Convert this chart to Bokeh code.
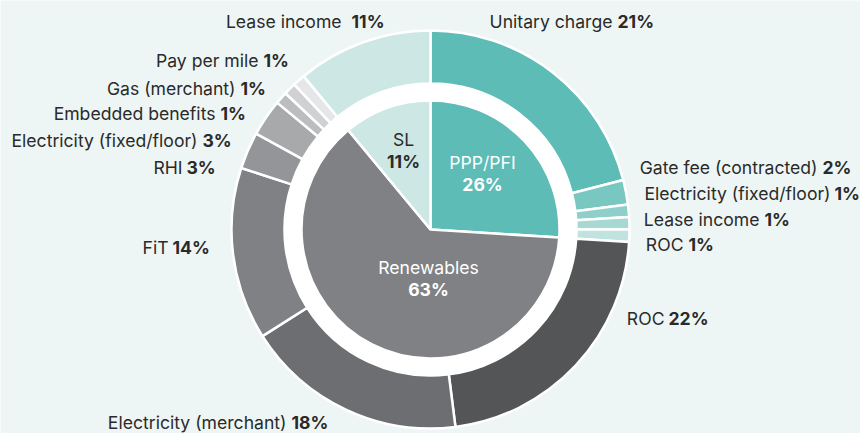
import numpy as np
from bokeh.plotting import figure
from bokeh.models import ColumnDataSource, Range1d
from bokeh.embed import file_html
from bokeh.resources import INLINE
from bokeh.core.properties import value

# ---------------- data ----------------
inner_labels = ["PPP/PFI", "Renewables", "SL"]
inner_values = [26, 63, 11]
inner_colors = ["#5DBCB5", "#808184", "#CDE7E4"]

outer_labels = ["Unitary charge", "Gate fee (contracted)", "Electricity (fixed/floor)",
                "Lease income", "ROC", "ROC", "Electricity (merchant)", "FiT", "RHI",
                "Electricity (fixed/floor)", "Embedded benefits", "Gas (merchant)",
                "Pay per mile", "Lease income"]
outer_values = [21, 2, 1, 1, 1, 22, 18, 14, 3, 3, 1, 1, 1, 11]
outer_colors = ["#5DBCB5", "#79C7C1", "#8FCFCA", "#A6D8D4", "#C0E3E0",
                "#545557", "#6D6E72", "#808184", "#939598", "#A7A9AB",
                "#BBBDBF", "#D0D1D3", "#E5E6E7", "#CDE7E4"]

# ---------------- layout (page pixels) ----------------
W, H = 860, 433
BG = "#EEF6F5"
TXT = "#2A2A2A"
FONT = "Inter"
FS = "17.6px"

def dx(X):
    return X

def dy(Y):
    return H - Y

CX, CY = 430, 229
R_OUT, R_RING_IN, R_PIE = 199, 146, 129

# outer label layout: name right end, pct left start, y centre (page px)
outer_layout = [
    (612, 617, 21), (817, 822, 167), (830, 834, 193), (759, 764, 219), (683, 688, 244),
    (664, 668, 318), (286, 291, 422), (168, 172, 247), (182, 186, 167), (197, 202, 140),
    (215, 220, 113), (235, 240, 88), (258, 263, 60), (346, 351, 21),
]
inner_layout = [(482, 162, 184, "white"), (428, 267, 289, "white"), (403, 139, 161, TXT)]

# ---------------- figure ----------------
p = figure(width=W, height=H, output_backend="svg", toolbar_location=None,
           x_range=Range1d(0, W), y_range=Range1d(0, H), min_border=0)
p.axis.visible = False
p.grid.visible = False
p.outline_line_color = None
p.background_fill_color = BG
p.border_fill_color = BG

def angles(vals):
    v = np.array(vals, dtype=float)
    frac = v / v.sum()
    cum = np.concatenate([[0.0], np.cumsum(frac)])
    start = np.pi / 2 - cum[:-1] * 2 * np.pi
    end = np.pi / 2 - cum[1:] * 2 * np.pi
    return start, end

cx, cy = dx(CX), dy(CY)

# outer ring
s, e = angles(outer_values)
osrc = ColumnDataSource(dict(start=s, end=e, color=outer_colors, label=outer_labels,
                             val=outer_values))
p.annular_wedge(x=cx, y=cy, inner_radius=R_RING_IN, outer_radius=R_OUT,
                start_angle="start", end_angle="end", direction="clock",
                fill_color="color", line_color="white", line_width=2.5, source=osrc)

# white gap
p.circle(x=[cx], y=[cy], radius=R_RING_IN - 1, fill_color="white", line_color=None)

# inner pie
s2, e2 = angles(inner_values)
isrc = ColumnDataSource(dict(start=s2, end=e2, color=inner_colors, label=inner_labels,
                             val=inner_values))
p.wedge(x=cx, y=cy, radius=R_PIE, start_angle="start", end_angle="end",
        direction="clock", fill_color="color", line_color="white", line_width=2.5,
        source=isrc)

# outer labels
name_src = ColumnDataSource(dict(
    x=[dx(l[0]) for l in outer_layout], y=[dy(l[2]) for l in outer_layout],
    text=[lab + (" " if lab == "Lease income" and v == 11 else "") for lab, v in zip(outer_labels, outer_values)]))
pct_src = ColumnDataSource(dict(
    x=[dx(l[1]) for l in outer_layout], y=[dy(l[2]) for l in outer_layout],
    text=[f"{v}%" for v in outer_values]))
p.text(x="x", y="y", text="text", source=name_src, text_align="right",
       text_baseline="middle", text_font=value(FONT), text_font_size=FS,
       text_color=TXT)
p.text(x="x", y="y", text="text", source=pct_src, text_align="left",
       text_baseline="middle", text_font=value(FONT), text_font_size=FS,
       text_color=TXT, text_font_style="bold")

# inner labels
p.text(x=[dx(l[0]) for l in inner_layout], y=[dy(l[1]) for l in inner_layout],
       text=inner_labels, text_align="center", text_baseline="middle",
       text_font=value(FONT), text_font_size=FS,
       text_color=[l[3] for l in inner_layout])
p.text(x=[dx(l[0]) for l in inner_layout], y=[dy(l[2]) for l in inner_layout],
       text=[f"{v}%" for v in inner_values], text_align="center", text_baseline="middle",
       text_font=value(FONT), text_font_size=FS, text_font_style="bold",
       text_color=[l[3] for l in inner_layout])

open("out.html", "w").write(file_html(p, INLINE))
